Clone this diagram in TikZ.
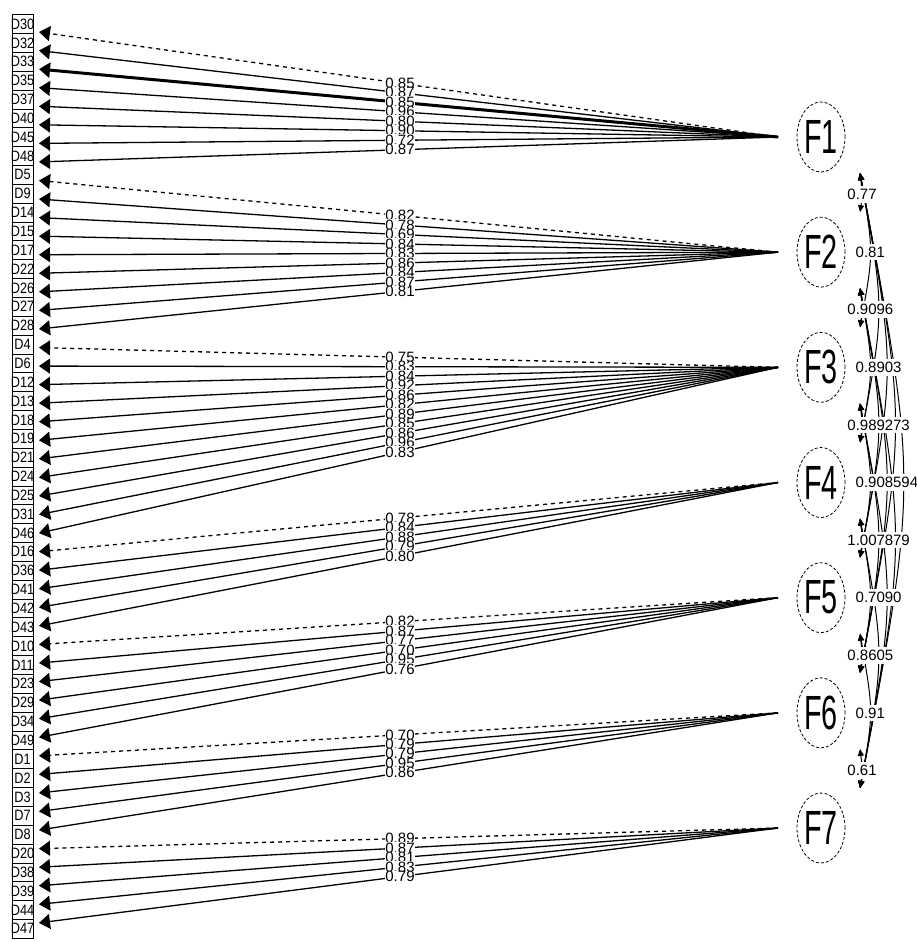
\documentclass[tikz,border=0pt]{standalone}
\usepackage{fontspec}
\setmainfont{Liberation Sans}
\usetikzlibrary{arrows.meta,shapes.geometric,calc}
\newcommand\sqz[1]{\scalebox{0.85}[1]{#1}}
\newcommand\fsq[1]{\scalebox{0.6}[1]{#1}}
\begin{document}
\begin{tikzpicture}[x=1pt,y=-1pt,
  indbox/.style={draw,line width=0.6pt,minimum width=21pt,minimum height=18.85pt,inner sep=0pt,font=\fontsize{15}{15}\selectfont},
  factor/.style={ellipse,draw,line width=0.8pt,dash pattern=on 3pt off 2pt,minimum width=48pt,minimum height=70pt,inner sep=0pt,outer xsep=19pt,font=\fontsize{48}{48}\selectfont},
  loadline/.style={line width=1.3pt,-{Triangle[length=11pt,width=15pt]}},
  fixedload/.style={dash pattern=on 4pt off 4pt},
  freeload/.style={},
  heavyload/.style={line width=3pt},
  loadlbl/.style={fill=white,inner xsep=0.5pt,inner ysep=0.5pt,font=\fontsize{15}{15}\selectfont},
  corr/.style={line width=1pt,{Triangle[length=7pt,width=6pt]}-{Triangle[length=7pt,width=6pt]}},
  corrlbl/.style={fill=white,inner xsep=0.5pt,inner ysep=3pt,font=\fontsize{15}{15}\selectfont}
]
\useasboundingbox (0,0) rectangle (917,942);

% latent factors
\foreach \k in {1,...,7}{
  \pgfmathsetmacro\yk{137+115.17*(\k-1)}
  \node[factor] (F\k) at (821,\yk) {\fsq{F\k}};
  \coordinate (Fb\k) at (860,\yk+36);
  \coordinate (Ft\k) at (860,\yk-40);
}

% indicator boxes
\foreach \lab [count=\n from 0] in {D30,D32,D33,D35,D37,D40,D45,D48,
  D5,D9,D14,D15,D17,D22,D26,D27,D28,
  D4,D6,D12,D13,D18,D19,D21,D24,D25,D31,D46,
  D16,D36,D41,D42,D43,
  D10,D11,D23,D29,D34,D49,
  D1,D2,D3,D7,D8,
  D20,D38,D39,D44,D47}{
  \node[indbox] (ind\n) at (22.5,24+18.85*\n) {\makebox[21pt]{\sqz{\lab}}};
  \coordinate (a\n) at (39,32+18.56*\n);
}

% loadings
\def\loadlist{0/1/0.85/fixedload,1/1/0.87/freeload,2/1/0.85/heavyload,3/1/0.96/freeload,4/1/0.80/freeload,5/1/0.90/freeload,6/1/0.72/freeload,7/1/0.87/freeload,
8/2/0.82/fixedload,9/2/0.78/freeload,10/2/0.69/freeload,11/2/0.84/freeload,12/2/0.83/freeload,13/2/0.86/freeload,14/2/0.84/freeload,15/2/0.87/freeload,16/2/0.81/freeload,
17/3/0.75/fixedload,18/3/0.83/freeload,19/3/0.84/freeload,20/3/0.92/freeload,21/3/0.86/freeload,22/3/0.82/freeload,23/3/0.89/freeload,24/3/0.85/freeload,25/3/0.86/freeload,26/3/0.96/freeload,27/3/0.83/freeload,
28/4/0.78/fixedload,29/4/0.84/freeload,30/4/0.88/freeload,31/4/0.79/freeload,32/4/0.80/freeload,
33/5/0.82/fixedload,34/5/0.87/freeload,35/5/0.77/freeload,36/5/0.70/freeload,37/5/0.95/freeload,38/5/0.76/freeload,
39/6/0.70/fixedload,40/6/0.79/freeload,41/6/0.79/freeload,42/6/0.95/freeload,43/6/0.86/freeload,
44/7/0.89/fixedload,45/7/0.87/freeload,46/7/0.81/freeload,47/7/0.83/freeload,48/7/0.79/freeload}
\foreach \i/\f/\v/\s in \loadlist{
  \draw[loadline,\s] (F\f.west) -- (a\i);
}
\foreach \i/\f/\v/\s in \loadlist{
  \node[loadlbl] (l\i) at ($(F\f.west)!0.5115!(a\i)$) {\v};
}

% factor correlations
\def\corrlist{1/7/6/0.94,
1/6/5/0.73,2/7/5/0.79,
1/5/4/1.03,2/6/4/0.85,3/7/4/0.90,
1/4/3/0.96,2/5/3/0.92,3/6/3/0.78,4/7/3/1.05,
1/3/2/0.81,2/4/2/0.89,3/5/2/0.90,4/6/2/0.70,5/7/2/0.91,
1/2/1/0.77,2/3/1/0.90,3/4/1/0.98,4/5/1/1.00,5/6/1/0.86,6/7/1/0.61}
\foreach \i/\j/\d/\v in \corrlist{
  \pgfmathsetmacro\ly{137+115.17*((\i+\j)/2-1)}
  \pgfmathsetmacro\lx{862+8.3*(\d-1)}
  \pgfmathsetmacro\cx{(8*\lx-1720)/6}
  \draw[corr] (Fb\i) .. controls (\cx,\ly) .. (Ft\j);
}
\foreach \i/\j/\d/\v in \corrlist{
  \pgfmathsetmacro\ly{137+115.17*((\i+\j)/2-1)}
  \pgfmathsetmacro\lx{862+8.3*(\d-1)}
  \node[corrlbl] (c\i\j) at (\lx,\ly) {\v};
}
\end{tikzpicture}
\end{document}
